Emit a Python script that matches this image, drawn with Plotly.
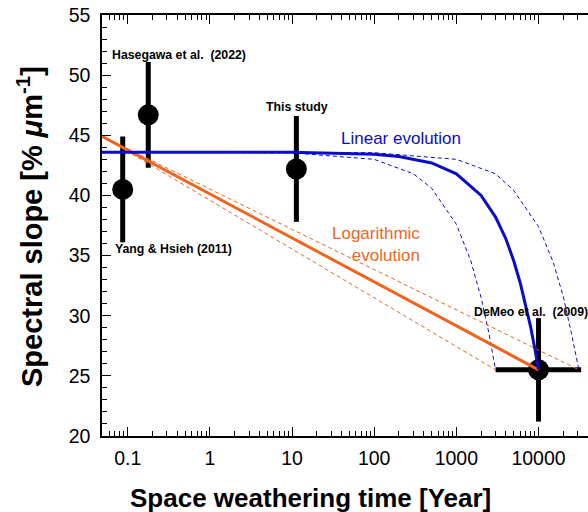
import math
import plotly.graph_objects as go

# ---- data ----
obs_labels = ["Yang & Hsieh (2011)", "Hasegawa et al.  (2022)", "This study", "DeMeo et al.  (2009)"]
obs_time = [0.087, 0.178, 11.3, 10000]
obs_slope = [40.5, 46.7, 42.2, 25.5]
obs_err_y = [4.4, 4.4, 4.4, 4.3]
obs_err_x_minus = [0, 0, 0, 7000]
obs_err_x_plus = [0, 0, 0, 23000]

lin_t = [0.0487, 1, 10, 100, 200, 500, 1000, 2000, 3000, 4000, 5000, 6000, 7000, 8000, 9000, 10000]
lin_y = [43.6, 43.6, 43.58, 43.42, 43.24, 42.7, 41.8, 40.0, 38.2, 36.4, 34.55, 32.7, 30.9, 29.1, 27.3, 25.5]

lin_lo_t = [0.0487, 10, 100, 300, 500, 1000, 1500, 2000, 2500, 3000]
lin_lo_y = [43.6, 43.54, 43.0, 41.8, 40.6, 37.6, 34.55, 31.5, 28.5, 25.5]

lin_hi_t = [0.0487, 100, 1000, 3000, 5000, 10000, 15000, 20000, 25000, 31000]
lin_hi_y = [43.6, 43.55, 43.0, 41.8, 40.4, 37.4, 34.5, 31.6, 28.6, 25.5]

log_t = [0.0487, 10000]
log_y = [44.92, 25.5]
log_lo_t = [0.0487, 3000]
log_lo_y = [44.92, 25.5]
log_hi_t = [0.0487, 31000]
log_hi_y = [44.92, 25.5]

x_tickvals = [0.1, 1, 10, 100, 1000, 10000]
x_ticktext = ["0.1", "1", "10", "100", "1000", "10000"]
y_tickvals = [20, 25, 30, 35, 40, 45, 50, 55]

BLUE = "#0b0bcc"
ORANGE = "#f0641e"
FONT = "Liberation Sans, Arial, Helvetica, sans-serif"

PL, PT, PB = 102, 15, 76
W, H = 588, 512
PW, PH = W - PL, H - PT - PB


def px(xp):
    return (xp - PL) / PW


def py(yp):
    return (PT + PH - yp) / PH


fig = go.Figure()

# observations (drawn first so the model lines sit on top)
fig.add_trace(go.Scatter(
    x=obs_time, y=obs_slope, mode="markers",
    marker=dict(color="black", size=21),
    error_y=dict(type="data", array=obs_err_y, color="black", thickness=5, width=0),
    error_x=dict(type="data", array=obs_err_x_plus, arrayminus=obs_err_x_minus,
                 color="black", thickness=5, width=0),
    showlegend=False, hoverinfo="skip"))

for t, y in [(lin_lo_t, lin_lo_y), (lin_hi_t, lin_hi_y)]:
    fig.add_trace(go.Scatter(x=t, y=y, mode="lines",
                             line=dict(color=BLUE, width=1, dash="4px,3px"),
                             showlegend=False))
for t, y in [(log_lo_t, log_lo_y), (log_hi_t, log_hi_y)]:
    fig.add_trace(go.Scatter(x=t, y=y, mode="lines",
                             line=dict(color=ORANGE, width=1, dash="4px,3px"),
                             showlegend=False))
fig.add_trace(go.Scatter(x=log_t, y=log_y, mode="lines",
                         line=dict(color=ORANGE, width=3), showlegend=False))
fig.add_trace(go.Scatter(x=lin_t, y=lin_y, mode="lines",
                         line=dict(color=BLUE, width=3), showlegend=False))

ann = []
bold = dict(family=FONT, size=12.3, color="black")
ann.append(dict(x=px(110), y=py(55), xref="paper", yref="paper", text="<b>Hasegawa et al.  (2022)</b>",
                showarrow=False, xanchor="left", yanchor="middle", font=bold))
ann.append(dict(x=px(297), y=py(107), xref="paper", yref="paper", text="<b>This study</b>",
                showarrow=False, xanchor="center", yanchor="middle", font=bold))
ann.append(dict(x=px(113), y=py(249), xref="paper", yref="paper", text="<b>Yang & Hsieh (2011)</b>",
                showarrow=False, xanchor="left", yanchor="middle", font=bold))
ann.append(dict(x=px(472), y=py(312), xref="paper", yref="paper", text="<b>DeMeo et al.  (2009)</b>",
                showarrow=False, xanchor="left", yanchor="middle", font=bold))
ann.append(dict(x=px(401), y=py(138), xref="paper", yref="paper", text="Linear evolution",
                showarrow=False, xanchor="center", yanchor="middle",
                font=dict(family=FONT, size=17, color=BLUE)))
ann.append(dict(x=px(422), y=py(244), xref="paper", yref="paper", text="Logarithmic<br>evolution",
                showarrow=False, xanchor="right", yanchor="middle", align="right",
                font=dict(family=FONT, size=17, color=ORANGE)))
# axis titles
ann.append(dict(x=px(310), y=py(498), xref="paper", yref="paper",
                text="<b>Space weathering time [Year]</b>", showarrow=False,
                xanchor="center", yanchor="middle", font=dict(family=FONT, size=26, color="black")))
ann.append(dict(x=px(30), y=py(227), xref="paper", yref="paper",
                text="<b>Spectral slope [% <i>μ</i>m<sup>-1</sup>]</b>", showarrow=False, textangle=-90,
                xanchor="center", yanchor="middle", font=dict(family=FONT, size=29, color="black")))

fig.update_layout(
    width=W, height=H,
    margin=dict(l=PL, r=0, t=PT, b=PB, pad=0),
    plot_bgcolor="white", paper_bgcolor="white",
    font=dict(family=FONT, color="black"),
    annotations=ann,
    showlegend=False,
)
fig.update_xaxes(
    type="log", range=[math.log10(0.0487), math.log10(40000)],
    tickvals=x_tickvals, ticktext=x_ticktext,
    ticks="inside", ticklen=9, tickwidth=1, tickcolor="black",
    minor=dict(ticks="inside", ticklen=5, tickwidth=1, tickcolor="black", dtick="D1", showgrid=False),
    showline=True, linecolor="black", linewidth=1.5, mirror="ticks",
    showgrid=False, zeroline=False, ticklabeloverflow="allow", ticklabelstandoff=4,
    tickfont=dict(family=FONT, size=19.5, color="black"),
)
fig.update_yaxes(
    range=[20, 55], tickvals=y_tickvals,
    ticks="inside", ticklen=9, tickwidth=1, tickcolor="black",
    minor=dict(ticks="inside", ticklen=5, tickwidth=1, tickcolor="black", dtick=1, showgrid=False),
    showline=True, linecolor="black", linewidth=1.5, mirror=False,
    showgrid=False, zeroline=False, ticklabeloverflow="allow", ticklabelstandoff=6,
    tickfont=dict(family=FONT, size=19.5, color="black"),
)

fig.write_html(
    "out.html",
    config={"displayModeBar": False},
    post_script="document.body.style.margin='0';document.body.style.overflow='hidden';",
)
